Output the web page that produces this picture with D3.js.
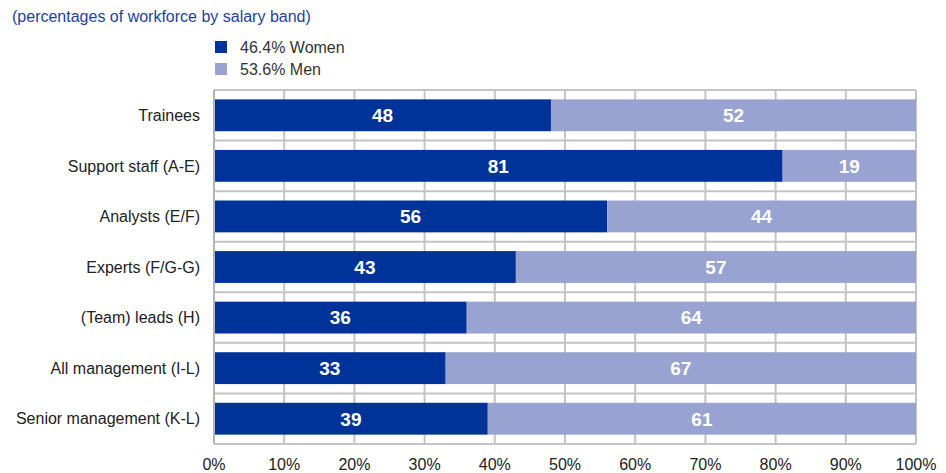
<!DOCTYPE html>
<html>
<head>
<meta charset="utf-8">
<script src="https://cdn.jsdelivr.net/npm/d3@7"></script>
<style>
body { margin: 0; background: #fff; font-family: Arial, "Liberation Sans", sans-serif; }
</style>
</head>
<body>
<div class="main"></div>
<script>
// data
var categories = ["Trainees", "Support staff (A-E)", "Analysts (E/F)", "Experts (F/G-G)",
  "(Team) leads (H)", "All management (I-L)", "Senior management (K-L)"];
var women = [48, 81, 56, 43, 36, 33, 39];
var men = [52, 19, 44, 57, 64, 67, 61];
var seriesNames = ["46.4% Women", "53.6% Men"];
var colors = ["#003399", "#99a3d1"];
var ticks = [0, 10, 20, 30, 40, 50, 60, 70, 80, 90, 100];

var W = 946, H = 473;
var margin = {top: 90, right: 30, bottom: 29, left: 214};
var width = W - margin.left - margin.right,
    height = H - margin.top - margin.bottom;

var svg = d3.select(".main").append("svg")
  .attr("width", W).attr("height", H);

// title
svg.append("text")
  .attr("x", 12).attr("y", 22)
  .style("font-size", "16px")
  .style("fill", "#1f3fa0")
  .text("(percentages of workforce by salary band)");

// legend
var legend = svg.append("g").attr("transform", "translate(215,41)");
seriesNames.forEach(function(n, i) {
  legend.append("rect")
    .attr("x", 0).attr("y", i * 22)
    .attr("width", 12).attr("height", 12)
    .style("fill", colors[i]);
  legend.append("text")
    .attr("x", 25).attr("y", i * 22 + 12)
    .style("font-size", "16px")
    .style("fill", "#333")
    .text(n);
});

var g = svg.append("g")
  .attr("transform", "translate(" + margin.left + "," + margin.top + ")");

var x = d3.scaleLinear().domain([0, 100]).range([0, width]);
var y = d3.scaleBand().domain(categories).range([0, height]).paddingInner(0.37).paddingOuter(0.185);
var band = d3.scaleBand().domain(categories).range([0, height]);

// grid
g.selectAll(".vgrid").data(ticks).enter().append("line")
  .attr("x1", function(d) { return x(d); })
  .attr("x2", function(d) { return x(d); })
  .attr("y1", 0).attr("y2", height)
  .style("stroke", "#c4c4c4").style("stroke-width", 2);

g.selectAll(".hgrid").data(d3.range(categories.length + 1)).enter().append("line")
  .attr("x1", 0).attr("x2", width)
  .attr("y1", function(i) { return i * band.step(); })
  .attr("y2", function(i) { return i * band.step(); })
  .style("stroke", "#c4c4c4").style("stroke-width", 2);

var rows = categories.map(function(c, i) {
  return {name: c, segs: [
    {v: women[i], x0: 0, color: colors[0]},
    {v: men[i], x0: women[i], color: colors[1]}
  ]};
});

var bar = g.selectAll(".bar").data(rows).enter().append("g")
  .attr("transform", function(d) { return "translate(0," + y(d.name) + ")"; });

bar.selectAll("rect").data(function(d) { return d.segs; }).enter().append("rect")
  .attr("x", function(d) { return x(d.x0); })
  .attr("width", function(d) { return x(d.x0 + d.v) - x(d.x0); })
  .attr("height", y.bandwidth())
  .style("fill", function(d) { return d.color; });

bar.selectAll("text").data(function(d) { return d.segs; }).enter().append("text")
  .attr("x", function(d) { return x(d.x0 + d.v / 2); })
  .attr("y", y.bandwidth() / 2)
  .attr("dy", "0.36em")
  .style("text-anchor", "middle")
  .style("font-size", "19px")
  .style("font-weight", "bold")
  .style("fill", "#fff")
  .text(function(d) { return d.v; });

// left axis line
g.append("line")
  .attr("x1", 0).attr("x2", 0).attr("y1", 0).attr("y2", height)
  .style("stroke", "#b4b4b4").style("stroke-width", 2);

// category labels
g.selectAll(".cat").data(categories).enter().append("text")
  .attr("x", -14)
  .attr("y", function(d) { return band(d) + band.bandwidth() / 2; })
  .attr("dy", "0.36em")
  .style("text-anchor", "end")
  .style("font-size", "16px")
  .style("fill", "#222")
  .text(function(d) { return d; });

// x tick labels
g.selectAll(".tick").data(ticks).enter().append("text")
  .attr("x", function(d) { return x(d); })
  .attr("y", height + 26)
  .style("text-anchor", "middle")
  .style("font-size", "16px")
  .style("fill", "#222")
  .text(function(d) { return d + "%"; });
</script>
</body>
</html>
